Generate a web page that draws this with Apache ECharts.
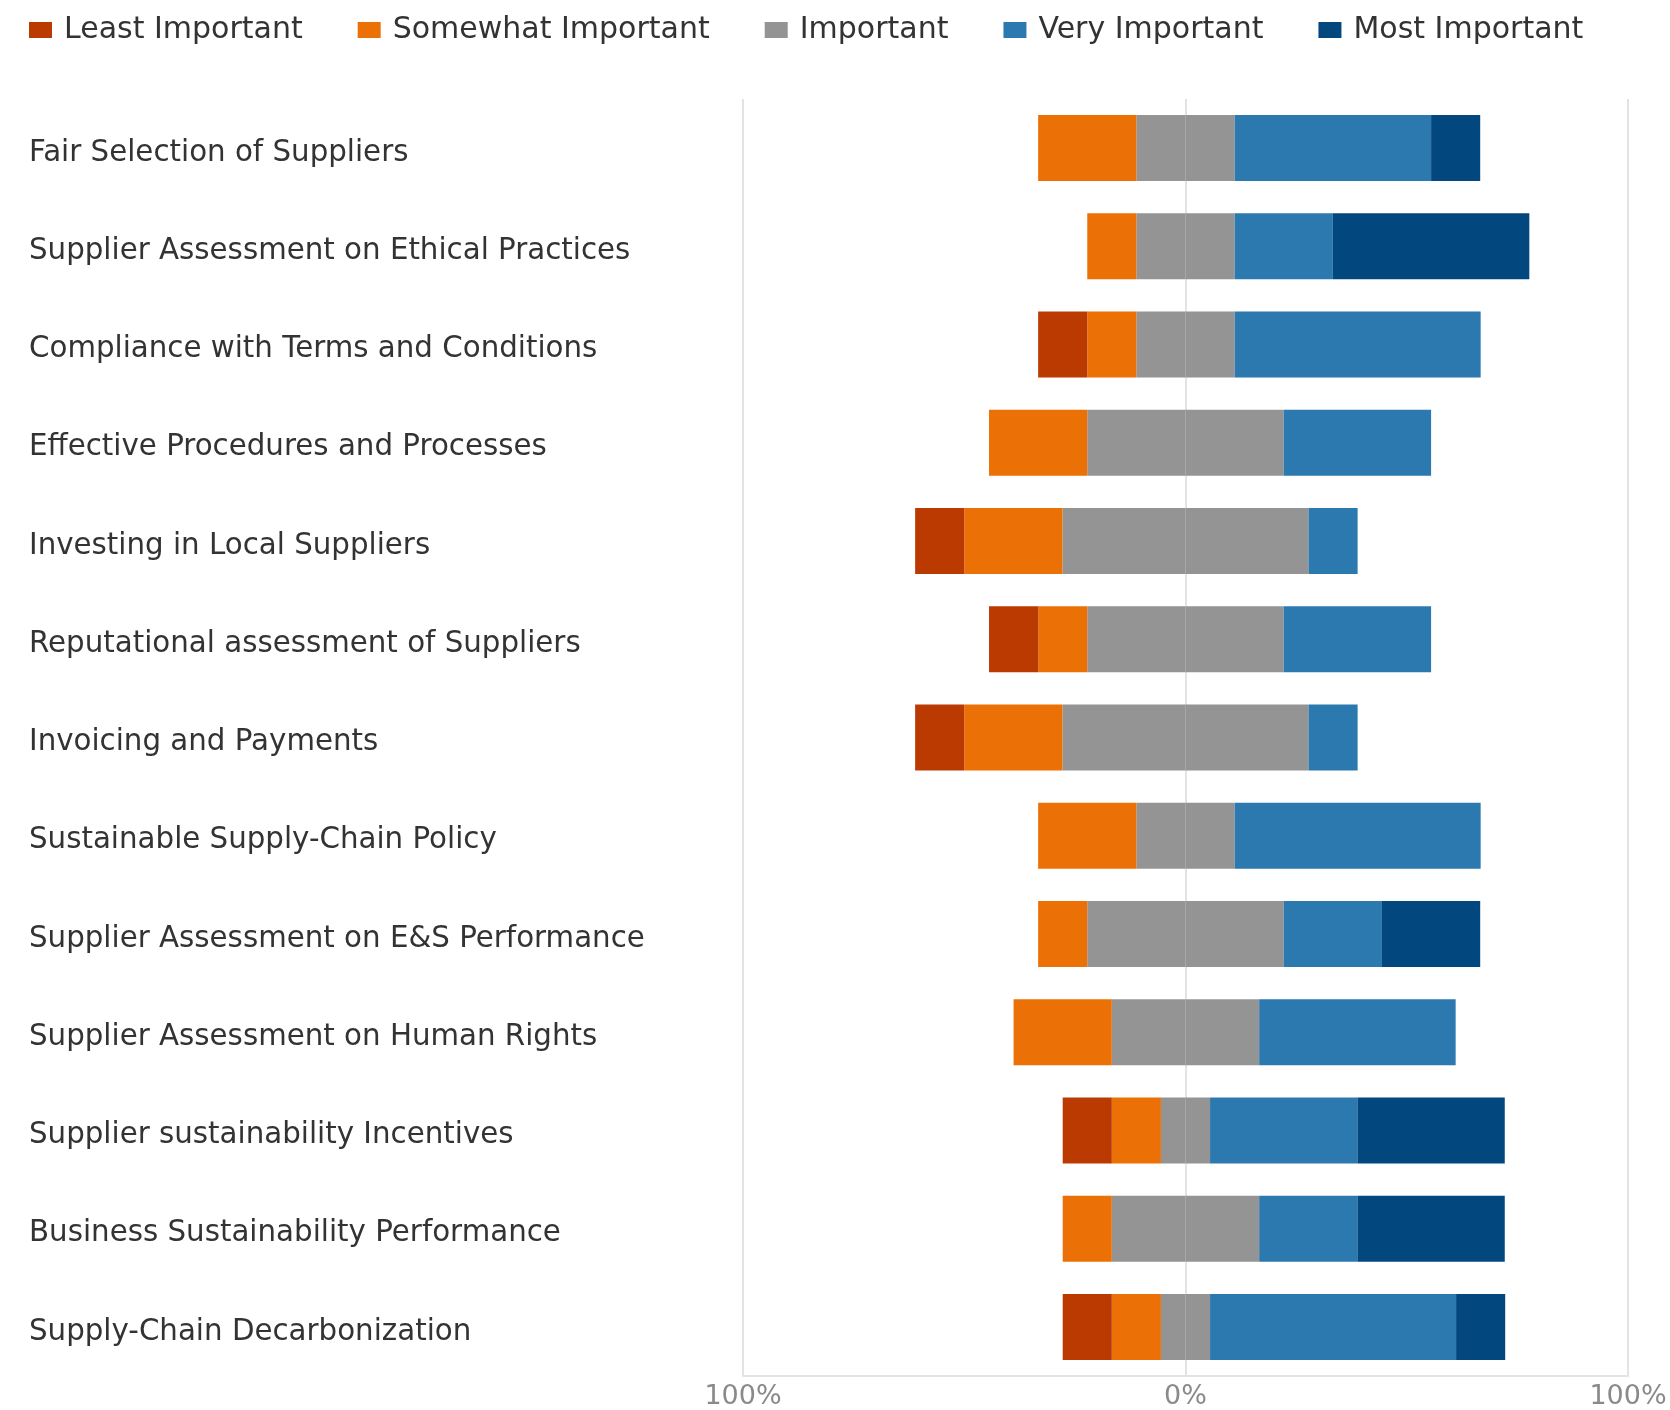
<!DOCTYPE html>
<html>
<head>
<meta charset="utf-8">
<script src="https://cdn.jsdelivr.net/npm/echarts@6/dist/echarts.min.js"></script>
<style>
html,body{margin:0;padding:0;background:#fff;}
#chart{width:1670px;height:1410px;}
</style>
</head>
<body>
<div id="chart"></div>
<script>
const categories = [
  'Fair Selection of Suppliers',
  'Supplier Assessment on Ethical Practices',
  'Compliance with Terms and Conditions',
  'Effective Procedures and Processes',
  'Investing in Local Suppliers',
  'Reputational assessment of Suppliers',
  'Invoicing and Payments',
  'Sustainable Supply-Chain Policy',
  'Supplier Assessment on E&S Performance',
  'Supplier Assessment on Human Rights',
  'Supplier sustainability Incentives',
  'Business Sustainability Performance',
  'Supply-Chain Decarbonization'
];
const seriesNames = ['Least Important', 'Somewhat Important', 'Important', 'Very Important', 'Most Important'];
// percentages of respondents
const leastImportant     = [0, 0, 11.1, 0, 11.1, 11.1, 11.1, 0, 0, 0, 11.1, 0, 11.1];
const somewhatImportant  = [22.2, 11.1, 11.1, 22.2, 22.2, 11.1, 22.2, 22.2, 11.1, 22.2, 11.1, 11.1, 11.1];
const important          = [22.2, 22.2, 22.2, 44.4, 55.6, 44.4, 55.6, 22.2, 44.4, 33.3, 11.1, 33.3, 11.1];
const veryImportant      = [44.4, 22.2, 55.6, 33.3, 11.1, 33.3, 11.1, 55.6, 22.2, 44.4, 33.3, 22.2, 55.6];
const mostImportant      = [11.1, 44.4, 0, 0, 0, 0, 0, 0, 22.2, 0, 33.3, 33.3, 11.1];
const tickLabels = { '-100': '100%', '0': '0%', '100': '100%' };

const colors = ['#BA3A02', '#EB7006', '#949494', '#2C79B0', '#03477F'];
const FONT = 'DejaVu Sans';

const barW = 66;
function bar(name, data, color) {
  return {
    name: name, type: 'bar', stack: 'total', barWidth: barW,
    data: data, itemStyle: { color: color }, silent: true
  };
}

const chart = echarts.init(document.getElementById('chart'), null, { renderer: 'canvas' });
chart.setOption({
  animation: false,
  backgroundColor: '#ffffff',
  legend: {
    data: seriesNames,
    left: 29, top: 15, padding: 0,
    icon: 'rect', itemWidth: 23, itemHeight: 16, itemGap: 55,
    selectedMode: false,
    textStyle: { fontFamily: FONT, fontSize: 30, color: '#333333', padding: [0, 0, 0, 7] }
  },
  grid: { left: 743, right: 42, top: 99, bottom: 34, containLabel: false },
  xAxis: {
    type: 'value', min: -100, max: 100, interval: 100,
    axisLine: { show: true, lineStyle: { color: '#e3e3e3', width: 2 } },
    axisTick: { show: false },
    splitLine: { show: true, lineStyle: { color: '#e3e3e3', width: 2 } },
    axisLabel: {
      fontFamily: FONT, fontSize: 27, color: '#8a8a8a', margin: 7,
      formatter: function (v) { return tickLabels[String(v)]; }
    }
  },
  yAxis: {
    type: 'category', data: categories, inverse: true,
    axisLine: { show: false }, axisTick: { show: false },
    axisLabel: {
      align: 'left', margin: 714, fontFamily: FONT, fontSize: 29.3, color: '#333333',
      formatter: function (v) { return '{s|}\n{t|' + v + '}'; },
      rich: {
        s: { fontSize: 1, lineHeight: 10, height: 10 },
        t: { fontFamily: FONT, fontSize: 29.3, color: '#333333', lineHeight: 34 }
      }
    }
  },
  series: [
    bar('Important', important.map(v => -v / 2), colors[2]),
    bar('Somewhat Important', somewhatImportant.map(v => -v), colors[1]),
    bar('Least Important', leastImportant.map(v => -v), colors[0]),
    bar('Important', important.map(v => v / 2), colors[2]),
    bar('Very Important', veryImportant, colors[3]),
    bar('Most Important', mostImportant, colors[4])
  ]
});
</script>
</body>
</html>
